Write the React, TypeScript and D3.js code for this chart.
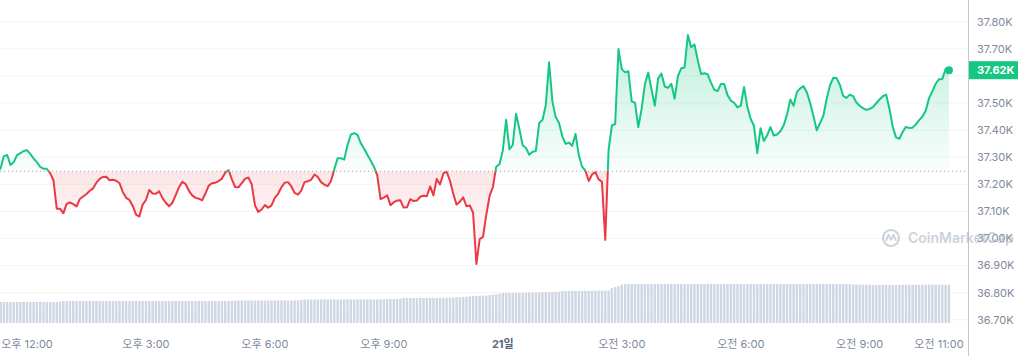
import React from 'react';
import * as d3 from 'd3';

// 5-minute samples starting 20일 오전 11:15
const START = new Date(2023, 9, 20, 11, 15);
const STEP_MIN = 5;

const prices: number[] = [
  37248, 37259, 37304, 37308, 37271, 37282, 37308, 37315, 37323, 37326,
  37312, 37295, 37282, 37264, 37257, 37257, 37241, 37215, 37110, 37110,
  37093, 37128, 37133, 37127, 37118, 37146, 37155, 37164, 37176, 37185,
  37206, 37220, 37227, 37228, 37215, 37217, 37213, 37204, 37171, 37150,
  37142, 37120, 37088, 37081, 37125, 37142, 37179, 37166, 37165, 37174,
  37149, 37132, 37119, 37132, 37160, 37189, 37209, 37201, 37176, 37159,
  37150, 37147, 37141, 37166, 37195, 37204, 37206, 37212, 37221, 37243,
  37253, 37218, 37190, 37189, 37204, 37220, 37225, 37200, 37122, 37098,
  37107, 37123, 37114, 37122, 37150, 37165, 37189, 37206, 37208, 37192,
  37168, 37162, 37177, 37208, 37211, 37217, 37236, 37227, 37208, 37199,
  37193, 37212, 37255, 37296, 37296, 37291, 37345, 37383, 37389, 37383,
  37352, 37332, 37309, 37288, 37265, 37233, 37145, 37151, 37159, 37123,
  37134, 37140, 37141, 37114, 37115, 37145, 37138, 37140, 37154, 37158,
  37156, 37192, 37159, 37220, 37199, 37240, 37247, 37213, 37165, 37125,
  37136, 37152, 37119, 37122, 37095, 36906, 36998, 37006, 37088, 37157,
  37190, 37265, 37274, 37326, 37438, 37329, 37345, 37460, 37405, 37344,
  37334, 37309, 37320, 37323, 37426, 37437, 37492, 37650, 37506, 37448,
  37426, 37377, 37349, 37354, 37342, 37386, 37307, 37265, 37250, 37212,
  37236, 37245, 37218, 37209, 36995, 37326, 37417, 37423, 37699, 37625,
  37613, 37617, 37506, 37501, 37411, 37478, 37570, 37612, 37550, 37490,
  37591, 37609, 37561, 37556, 37571, 37516, 37600, 37628, 37631, 37751,
  37706, 37716, 37658, 37607, 37610, 37606, 37575, 37549, 37544, 37570,
  37570, 37529, 37509, 37501, 37484, 37490, 37559, 37486, 37442, 37416,
  37315, 37407, 37360, 37381, 37411, 37380, 37384, 37396, 37418, 37457,
  37513, 37490, 37541, 37554, 37562, 37540, 37500, 37452, 37399, 37426,
  37453, 37515, 37565, 37593, 37592, 37567, 37526, 37519, 37531, 37525,
  37502, 37490, 37481, 37475, 37478, 37485, 37499, 37513, 37525, 37531,
  37479, 37412, 37373, 37368, 37393, 37412, 37408, 37409, 37421, 37437,
  37450, 37472, 37518, 37544, 37571, 37588, 37589, 37625, 37621,
];

// 24h volume (billions), one per sample
const volumes: number[] = [
  21.0, 21.0, 21.1, 21.0, 21.0, 21.1, 21.1, 21.0, 21.0, 21.1,
  21.1, 21.0, 21.0, 21.1, 21.1, 21.1, 21.0, 21.0, 21.1, 21.1,
  22.0, 22.0, 22.1, 22.0, 21.9, 22.0, 22.0, 22.1, 22.0, 22.0,
  22.0, 21.9, 22.0, 22.1, 22.0, 22.0, 22.0, 22.1, 22.0, 21.9,
  22.0, 22.0, 22.1, 22.0, 22.0, 22.0, 22.1, 22.0, 22.0, 22.0,
  21.9, 22.0, 22.0, 22.1, 22.0, 22.0, 22.0, 22.1, 22.0, 22.0,
  22.0, 22.0, 22.1, 22.0, 22.0, 22.0, 22.1, 22.0, 22.0, 22.0,
  22.1, 22.2, 22.5, 22.5, 22.6, 22.5, 22.5, 22.6, 22.5, 22.5,
  22.6, 22.6, 22.5, 22.5, 22.6, 22.5, 22.6, 22.6, 22.5, 22.5,
  22.6, 22.7, 23.0, 23.5, 23.5, 23.4, 23.5, 23.6, 23.5, 23.5,
  23.5, 23.6, 23.5, 23.5, 23.4, 23.5, 23.6, 23.5, 23.5, 23.6,
  23.6, 23.5, 23.5, 23.6, 23.5, 23.5, 23.6, 23.7, 23.8, 23.9,
  24.0, 24.2, 24.4, 25.0, 25.0, 25.1, 25.0, 25.0, 25.1, 25.1,
  25.0, 25.1, 25.2, 25.1, 25.0, 25.2, 25.3, 25.3, 25.4, 25.6,
  25.8, 26.0, 26.3, 26.6, 27.0, 27.0, 27.2, 27.3, 27.5, 28.0,
  28.4, 28.8, 29.3, 30.0, 30.0, 30.1, 30.1, 30.2, 30.2, 30.3,
  30.4, 30.4, 30.5, 30.5, 30.6, 30.7, 30.8, 31.0, 31.0, 31.1,
  31.2, 32.0, 32.0, 32.0, 32.1, 32.1, 32.1, 32.2, 32.2, 32.2,
  32.3, 32.3, 32.3, 32.4, 32.4, 32.5, 35.0, 36.0, 37.0, 38.5,
  39.0, 39.0, 39.0, 39.1, 39.0, 39.0, 39.0, 39.1, 39.0, 39.0,
  39.0, 39.0, 39.1, 39.0, 39.0, 39.0, 39.1, 39.0, 39.0, 39.0,
  39.0, 39.1, 39.0, 39.0, 39.0, 39.0, 39.1, 39.0, 39.0, 39.0,
  39.0, 39.0, 39.1, 39.0, 39.0, 39.0, 39.0, 39.0, 39.1, 39.0,
  39.0, 39.0, 39.0, 39.0, 39.1, 39.0, 39.0, 39.0, 39.0, 39.0,
  39.0, 39.1, 39.0, 39.0, 39.0, 39.0, 39.0, 39.0, 39.0, 39.1,
  39.0, 39.0, 39.0, 39.0, 39.0, 39.0, 39.0, 39.0, 38.8, 38.5,
  38.4, 38.3, 38.3, 38.2, 38.2, 38.2, 38.1, 38.1, 38.1, 38.2,
  38.2, 38.1, 38.1, 38.2, 38.2, 38.2, 38.1, 38.2, 38.2, 38.2,
  38.2, 38.3, 38.3, 38.3, 38.2, 38.2, 38.3, 38.3, 38.3,
];

const baselinePrice = 37248;
const lastPriceLabel = '37.62K';
const yTicks = [36700, 36800, 36900, 37000, 37100, 37200, 37300, 37400, 37500, 37600, 37700, 37800];
const xTickHours = [12, 15, 18, 21, 24, 27, 30, 33, 35];
const xTickLabels = ['오후 12:00', '오후 3:00', '오후 6:00', '오후 9:00', '21일', '오전 3:00', '오전 6:00', '오전 9:00', '오전 11:00'];

const GREEN = '#16c784';
const RED = '#ea3943';
const FONT = 'Inter, "Noto Sans CJK KR", sans-serif';

export default function App() {
  const W = 1018;
  const H = 356;
  const axisX = 968;
  const times = prices.map((_, i) => new Date(START.getTime() + i * STEP_MIN * 60000));
  const x = d3
    .scaleTime()
    .domain([new Date(2023, 9, 20, 12), new Date(2023, 9, 20, 35)])
    .range([27, 939]);
  const y = d3.scaleLinear().domain([36700, 37800]).range([319.8, 21.7]);
  const vy = d3.scaleLinear().domain([0, 40]).range([323, 283]);
  const by = y(baselinePrice);

  const line = d3
    .line<number>()
    .x((_, i) => x(times[i]))
    .y((d) => y(d));
  const area = d3
    .area<number>()
    .x((_, i) => x(times[i]))
    .y0(by)
    .y1((d) => y(d));
  const step = x(times[1]) - x(times[0]);
  const last = prices.length - 1;
  const lastX = x(times[last]);
  const lastY = y(prices[last]);
  const visibleTicks = yTicks.filter((t) => Math.abs(y(t) - lastY) > 12);

  return (
    <svg width={W} height={H} style={{ position: 'absolute', left: 0, top: 0, background: '#fff' }} fontFamily={FONT}>
      <defs>
        <clipPath id="plot">
          <rect x={0} y={0} width={axisX} height={H} />
        </clipPath>
        <clipPath id="above">
          <rect x={0} y={0} width={axisX} height={by} />
        </clipPath>
        <clipPath id="below">
          <rect x={0} y={by} width={axisX} height={H - by} />
        </clipPath>
        <linearGradient id="gGreen" gradientUnits="userSpaceOnUse" x1={0} y1={y(37750)} x2={0} y2={by}>
          <stop offset="0" stopColor={GREEN} stopOpacity={0.28} />
          <stop offset="1" stopColor={GREEN} stopOpacity={0.02} />
        </linearGradient>
        <linearGradient id="gRed" gradientUnits="userSpaceOnUse" x1={0} y1={by} x2={0} y2={y(36900)}>
          <stop offset="0" stopColor={RED} stopOpacity={0.12} />
          <stop offset="1" stopColor={RED} stopOpacity={0.02} />
        </linearGradient>
      </defs>

      {/* grid */}
      {yTicks.map((t) => (
        <line key={t} x1={0} x2={axisX} y1={y(t)} y2={y(t)} stroke="#f3f4f6" strokeWidth={1} />
      ))}

      {/* volume bars */}
      <g clipPath="url(#plot)">
        {volumes.map((v, i) => (
          <rect
            key={i}
            x={x(times[i]) - step / 2 + 0.45}
            y={vy(v)}
            width={step - 0.9}
            height={vy(0) - vy(v)}
            fill="#cfd6e4"
          />
        ))}
      </g>

      {/* areas */}
      <g clipPath="url(#plot)">
        <path d={area(prices) || ''} fill="url(#gGreen)" clipPath="url(#above)" />
        <path d={area(prices) || ''} fill="url(#gRed)" clipPath="url(#below)" />
      </g>

      {/* baseline */}
      <line x1={0} x2={axisX} y1={by} y2={by} stroke="#9aa0ab" strokeWidth={1} strokeDasharray="1 3" />

      {/* price line */}
      <g clipPath="url(#plot)">
        <path d={line(prices) || ''} fill="none" stroke={GREEN} strokeWidth={2} strokeLinejoin="round" clipPath="url(#above)" />
        <path d={line(prices) || ''} fill="none" stroke={RED} strokeWidth={2} strokeLinejoin="round" clipPath="url(#below)" />
      </g>
      <circle cx={lastX} cy={lastY} r={4} fill={GREEN} />

      {/* right axis */}
      <line x1={axisX + 0.5} x2={axisX + 0.5} y1={0} y2={H} stroke="#c4c7cc" strokeWidth={1} />
      {visibleTicks.map((t) => (
        <text key={t} x={977} y={y(t)} dy="0.35em" fontSize={11} fill="#808a9d">
          {(t / 1000).toFixed(2) + 'K'}
        </text>
      ))}
      <rect x={axisX + 1} y={lastY - 9} width={W - axisX - 1} height={18} fill={GREEN} />
      <text x={977} y={lastY} dy="0.35em" fontSize={11} fontWeight={700} fill="#fff">
        {lastPriceLabel}
      </text>

      {/* x axis labels */}
      {xTickHours.map((h, i) => (
        <text
          key={h}
          x={x(new Date(2023, 9, 20, h))}
          y={344}
          dy="0.35em"
          textAnchor="middle"
          fontSize={11}
          fontWeight={h === 24 ? 700 : 400}
          fill={h === 24 ? '#58667e' : '#808a9d'}
        >
          {xTickLabels[i]}
        </text>
      ))}

      {/* watermark */}
      <g opacity={0.55}>
        <circle cx={891} cy={238} r={8} fill="none" stroke="#a6b0c3" strokeWidth={2.2} />
        <path d="M886 241 L888.5 234.5 L891 240 L893.5 234.5 L896 241" fill="none" stroke="#a6b0c3" strokeWidth={1.8} strokeLinejoin="round" />
        <text x={908} y={238} dy="0.35em" fontSize={14} fontWeight={600} fill="#a6b0c3">
          CoinMarketCap
        </text>
      </g>
    </svg>
  );
}
